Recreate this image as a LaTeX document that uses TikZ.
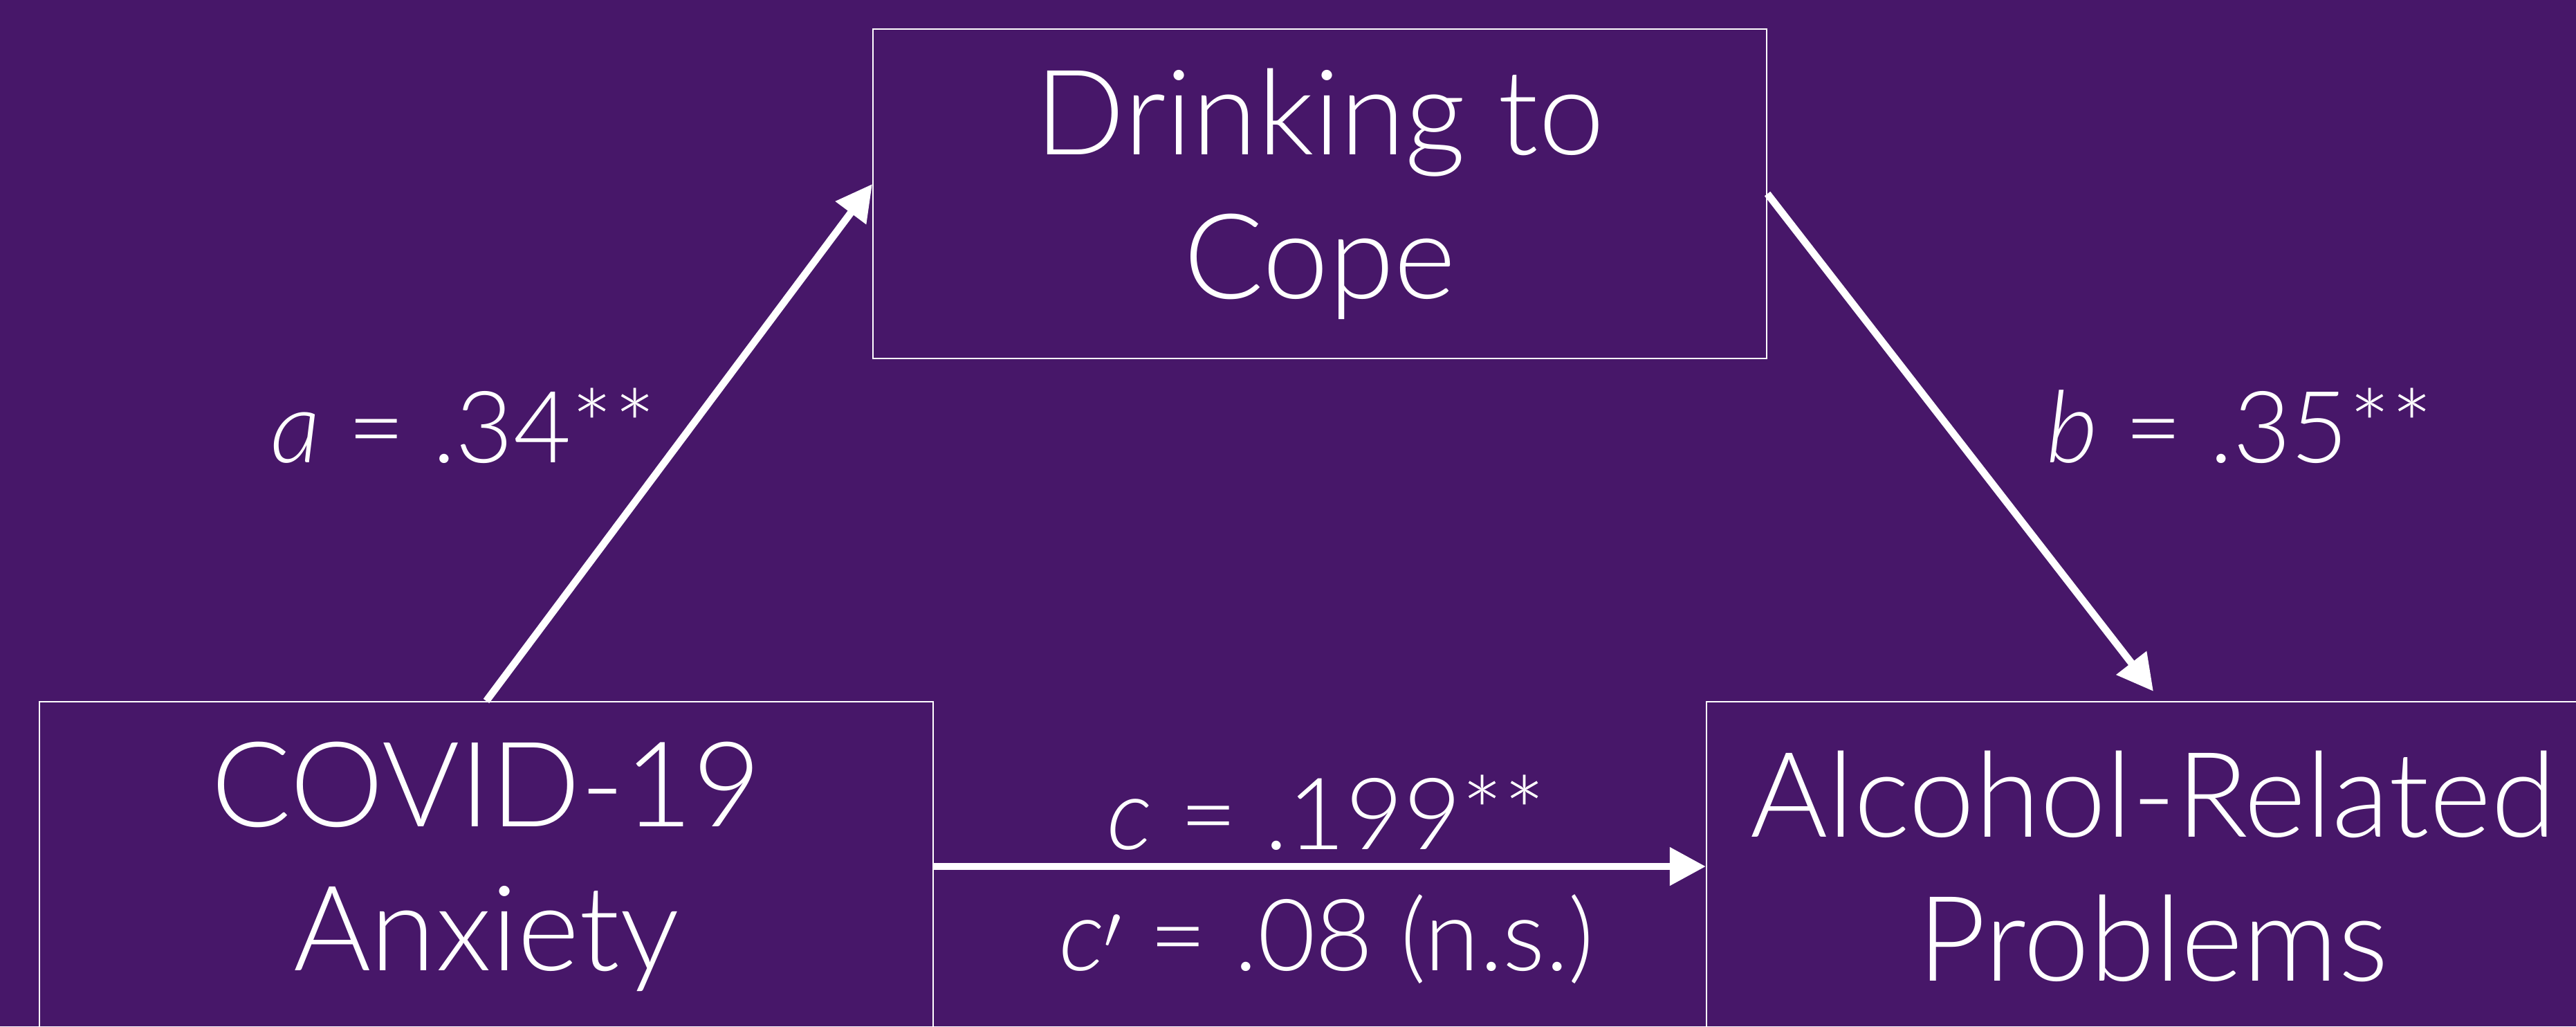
\documentclass[tikz,border=0pt]{standalone}
\usepackage{fontspec}
\setmainfont{Lato}[UprightFont=* Light, ItalicFont=* Light Italic]
\usepackage{xcolor}
\usepackage{tikz}
\usetikzlibrary{arrows.meta, positioning, calc}
\definecolor{bgpurple}{RGB}{71,23,105}

\begin{document}
\begin{tikzpicture}[
    every node/.style={text=white},
    varbox/.style={draw=white, line width=0.6pt, minimum width=12.92cm, minimum height=4.76cm,
        inner sep=0pt, align=center, font=\fontsize{48.7}{59.2}\selectfont},
    coeflabel/.style={font=\fontsize{41}{49}\selectfont, inner sep=0pt},
    pathstyle/.style={-{Triangle[length=5.2mm, width=5.3mm]}, line width=3pt, white}
]

% background
\fill[bgpurple] (0,0) rectangle (37.24,14.83);
\useasboundingbox (0,0) rectangle (37.24,14.83);

% variables
\node[varbox] (cope) at (19.08,12.03) {Drinking to\\Cope};
\node[varbox] (anx)  at (7.03,2.31)   {COVID-19\\Anxiety};
\node[varbox] (prob) at (31.13,2.31)  {Alcohol-Related\\Problems};

% paths
\draw[pathstyle] (anx.north) -- ([yshift=0.14cm]cope.west);
\draw[pathstyle] (cope.east) -- ([yshift=0.14cm]prob.north);
\draw[pathstyle] (anx.east) -- (prob.west)
    node[midway, anchor=base, xshift=0.1cm, yshift=0.25cm, coeflabel] (clab) {\textit{c} = .199**}
    node[midway, anchor=base, xshift=0.1cm, yshift=-1.5cm, coeflabel] (cplab) {\textit{c}$'$ = .08 (n.s.)};

% coefficients
\node[coeflabel] (alab) at (6.70,8.68)  {\textit{a} = .34**};
\node[coeflabel] (blab) at (32.38,8.68) {\textit{b} = .35**};

\end{tikzpicture}
\end{document}
